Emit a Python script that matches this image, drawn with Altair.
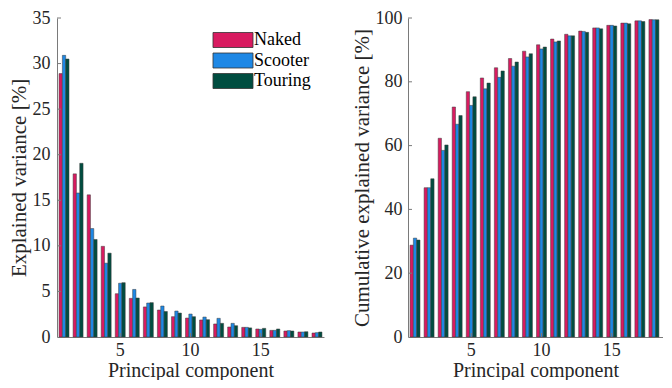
import altair as alt
import pandas as pd

components = list(range(1, 20))
series = ["Naked", "Scooter", "Touring"]
colors = ["#D81B60", "#1E88E5", "#004D40"]

naked_ev = [28.9, 17.9, 15.6, 9.95, 4.75, 4.24, 3.3, 2.96, 2.23, 2.08, 1.87, 1.43, 1.1, 1.06, 0.88, 0.73, 0.66, 0.55, 0.44]
scooter_ev = [30.9, 15.8, 11.9, 8.1, 5.9, 5.22, 3.73, 3.4, 2.85, 2.52, 2.19, 2.05, 1.5, 1.06, 0.84, 0.73, 0.7, 0.55, 0.48]
touring_ev = [30.5, 19.06, 10.7, 9.2, 5.96, 4.28, 3.77, 2.8, 2.63, 2.23, 1.9, 1.5, 1.24, 1.0, 0.95, 0.88, 0.66, 0.58, 0.55]

naked_cum = [28.8, 46.8, 62.3, 72.1, 76.9, 81.2, 84.4, 87.3, 89.6, 91.6, 93.4, 94.9, 95.9, 96.9, 97.7, 98.4, 99.1, 99.5, 100]
scooter_cum = [31.0, 46.8, 58.5, 66.7, 72.6, 77.8, 81.4, 84.9, 87.8, 90.3, 92.5, 94.4, 95.8, 96.9, 97.7, 98.4, 99.1, 99.45, 100]
touring_cum = [30.4, 49.6, 60.2, 69.4, 75.3, 79.6, 83.4, 86.2, 88.8, 90.9, 92.8, 94.4, 95.5, 96.6, 97.5, 98.2, 98.9, 99.45, 100]

x_ticks = [5, 10, 15]
left_ticks = [0, 5, 10, 15, 20, 25, 30, 35]
right_ticks = [0, 20, 40, 60, 80, 100]


def frame(vals_list):
    rows = []
    for s, vals in zip(series, vals_list):
        for c, v in zip(components, vals):
            rows.append({"pc": c, "series": s, "value": v})
    return pd.DataFrame(rows)


ev_df = frame([naked_ev, scooter_ev, touring_ev])
cum_df = frame([naked_cum, scooter_cum, touring_cum])

FONT = "Liberation Serif"
AXIS_COLOR = "#7a7a7a"
H = 319
LEFT_W = 267
RIGHT_W = 255        # right panel is cut by the page edge
RIGHT_LAST = 18      # last component group that fits in the cut panel


def panel(df, ytitle, ymax, yticks, legend, width, xscale, ypad, last=None):
    xaxis = alt.Axis(values=x_ticks, title="Principal component", labelAngle=0,
                     labelPadding=4, titlePadding=1, titleFontSize=20)
    yscale = alt.Scale(domain=[0, ymax], nice=False)
    base = alt.Chart(df)
    if last is not None:
        base = base.transform_filter(alt.datum.pc <= last)
    bars = base.mark_bar(stroke="#3c3c3c", strokeWidth=0.5).encode(
        x=alt.X("pc:O", scale=xscale, axis=xaxis),
        xOffset=alt.XOffset("series:N", sort=series,
                            scale=alt.Scale(paddingInner=0, paddingOuter=0)),
        y=alt.Y("value:Q", scale=yscale,
                axis=alt.Axis(values=yticks, title=ytitle, labelPadding=ypad, titlePadding=3)),
        color=alt.Color("series:N", sort=series,
                        scale=alt.Scale(domain=series, range=colors),
                        legend=legend),
    )
    ytick_df = pd.DataFrame({"value": yticks[1:]})
    yt = alt.Chart(ytick_df).mark_rule(color=AXIS_COLOR, strokeWidth=1).encode(
        y=alt.Y("value:Q", scale=yscale), x=alt.value(0), x2=alt.value(4))
    xtick_df = pd.DataFrame({"pc": x_ticks})
    xt = alt.Chart(xtick_df).mark_rule(color=AXIS_COLOR, strokeWidth=1).encode(
        x=alt.X("pc:O", scale=xscale), y=alt.value(H), y2=alt.value(H - 4))
    return alt.layer(bars, yt, xt).properties(width=width, height=H)


leg = alt.Legend(
    title=None, orient="none", legendX=167, legendY=13,
    symbolType="M-2.667,-1L2.667,-1L2.667,1L-2.667,1Z",
    symbolSize=225, symbolStrokeColor="#333333", symbolStrokeWidth=0.8,
    symbolOpacity=1,
    labelFont=FONT, labelFontSize=18, labelColor="#000000", labelOffset=12,
    rowPadding=0.5, padding=0,
)

left_x = alt.Scale(paddingInner=0.29, paddingOuter=0.145)
right_x = alt.Scale(paddingInner=0.29, paddingOuter=0.218, align=0.333)

left = panel(ev_df, "Explained variance [%]", 35, left_ticks, leg, LEFT_W, left_x, 7)
right = panel(cum_df, "Cumulative explained variance [%]", 100, right_ticks, None,
              RIGHT_W, right_x, 6, last=RIGHT_LAST)

chart = alt.hconcat(left, right, spacing=27).resolve_scale(
    color="independent", x="independent"
).resolve_legend(color="independent").properties(
    padding={"left": 0, "top": 1, "right": 0, "bottom": 0}
).configure_view(stroke=None).configure_axis(
    grid=False, ticks=False, domainColor=AXIS_COLOR, domainWidth=1,
    labelFont=FONT, titleFont=FONT, labelFontSize=18, titleFontSize=21,
    labelColor="#262626", titleColor="#262626", titleFontWeight="normal",
)

chart.save("out.html", embed_options={"renderer": "svg", "actions": False})
